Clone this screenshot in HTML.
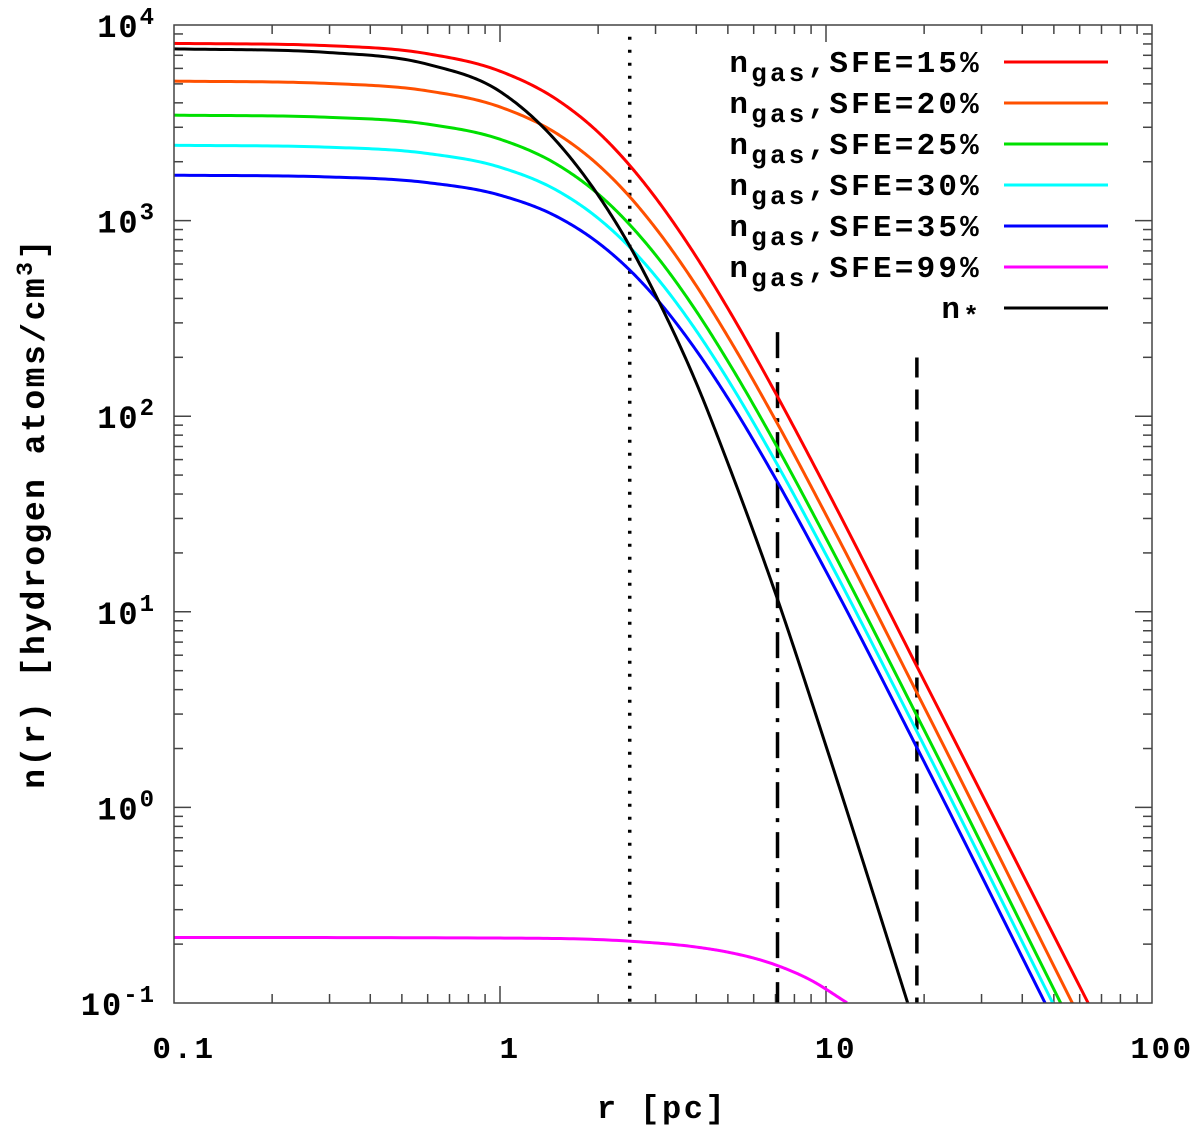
<!DOCTYPE html>
<html><head><meta charset="utf-8"><style>
html,body{margin:0;padding:0;background:#fff;}
svg{display:block;font-family:"Liberation Mono","DejaVu Sans Mono",monospace;font-weight:bold;}
</style></head><body>
<svg id="chart" width="1200" height="1132" viewBox="0 0 1200 1132" xmlns="http://www.w3.org/2000/svg"></svg>
<script>
// r values (pc) at which curves were read, and log10(n) values
const rRed   = [0.1,0.3,0.6,1,1.5,2,2.5,3,4,5,7,10,20,63.7];
const logRed = [3.906,3.894,3.853,3.764,3.617,3.452,3.282,3.117,2.815,2.551,2.119,1.632,0.648,-1.0];
const rOrange   = [0.1,0.3,0.6,1,1.5,2,2.5,3,4,5,7,10,20,57];
const logOrange = [3.713,3.701,3.663,3.581,3.443,3.285,3.122,2.962,2.667,2.407,1.980,1.496,0.513,-1.001];
const rGreen   = [0.1,0.3,0.6,1,1.5,2,2.5,3,4,5,7,10,20,52.5];
const logGreen = [3.539,3.528,3.493,3.416,3.286,3.136,2.979,2.825,2.537,2.281,1.858,1.376,0.396,-1.001];
const rCyan   = [0.1,0.3,0.6,1,1.5,2,2.5,3,4,5,7,10,20,49.7];
const logCyan = [3.385,3.375,3.343,3.273,3.153,3.012,2.864,2.716,2.437,2.187,1.769,1.292,0.315,-1.003];
const rBlue   = [0.1,0.3,0.6,1,1.5,2,2.5,3,4,5,7,10,20,47];
const logBlue = [3.232,3.223,3.194,3.130,3.019,2.887,2.747,2.606,2.336,2.092,1.681,1.207,0.233,-1.0];
const rMag   = [0.1,1,2.5,4,5,7,9,11.6];
const logMag = [-0.665,-0.668,-0.684,-0.714,-0.740,-0.805,-0.884,-0.999];
const rStar   = [0.1,0.3,0.6,1,1.5,2,2.5,3,4,5,7,10,15,17.8];
const logStar = [3.878,3.859,3.799,3.66,3.40,3.13,2.87,2.62,2.17,1.76,1.094,0.314,-0.606,-0.999];
const seriesColors = ['#ff0000','#ff5000','#00e000','#00ffff','#0000ff','#ff00ff','#000000'];
const seriesNames = ['sfe-15','sfe-20','sfe-25','sfe-30','sfe-35','sfe-99','n-star'];
const legendLabels = ['15%','20%','25%','30%','35%','99%',''];
const xTickVals = [0.1,1,10,100];
const xTickLabels = ['0.1','1','10','100'];
const yTickExps = [4,3,2,1,0,-1];
const vlineR = [2.5,7.1,19.0];
const vlineTop = [3.94,2.43,2.3];
const vlineNames = ['dotted-line','dash-dot-line','dashed-line'];

const L=174,R=1152,T=25,B=1003;
const X = r => L + (Math.log10(r)+1)*(R-L)/3;
const Y = lg => T + (4-lg)*(B-T)/5;
const NS='http://www.w3.org/2000/svg';
const svg=document.getElementById('chart');
function mk(tag,attrs,parent){const e=document.createElementNS(NS,tag);for(const k in attrs)e.setAttribute(k,attrs[k]);(parent||svg).appendChild(e);return e;}

const defs=mk('defs',{});
const cp=mk('clipPath',{id:'plotclip'},defs);
mk('rect',{x:L,y:T,width:R-L,height:B-T},cp);

const ticks=mk('g',{stroke:'#444','stroke-width':1.5});


for(let d=-1;d<2;d++){for(let m=1;m<10;m++){const v=m*Math.pow(10,d);const x=X(v);const len=m===1?17:9;
 if(m===1&&d===-1)continue;
 mk('line',{x1:x,y1:B,x2:x,y2:B-len},ticks);mk('line',{x1:x,y1:T,x2:x,y2:T+len},ticks);}}
for(let e=-1;e<4;e++){for(let m=1;m<10;m++){const lg=e+Math.log10(m);const y=Y(lg);const len=m===1?17:9;
 if(m===1&&e===-1)continue;
 mk('line',{x1:L,y1:y,x2:L+len,y2:y},ticks);mk('line',{x1:R,y1:y,x2:R-len,y2:y},ticks);}}

const dashes=['3,10','26,10,4,10','20,12'];
vlineR.forEach((r,i)=>{const l=mk('line',{x1:X(r),x2:X(r),y1:Y(vlineTop[i]),y2:B,stroke:'#000','stroke-width':3.5,'stroke-dasharray':dashes[i]});
 
 });

// monotone cubic interpolation in log-log space
function monoPath(rs,ls){
 const xs=rs.map(r=>Math.log10(r)),ys=ls,n=xs.length;
 const dl=[],m=[];for(let i=0;i<n-1;i++)dl.push((ys[i+1]-ys[i])/(xs[i+1]-xs[i]));
 m[0]=dl[0];m[n-1]=dl[n-2];
 for(let i=1;i<n-1;i++){const h0=xs[i]-xs[i-1],h1=xs[i+1]-xs[i];m[i]=(dl[i-1]*dl[i]<=0)?0:(dl[i-1]*h1+dl[i]*h0)/(h0+h1);}
 for(let i=0;i<n-1;i++){if(dl[i]===0){m[i]=0;m[i+1]=0;continue;}const a=m[i]/dl[i],b=m[i+1]/dl[i],s=a*a+b*b;if(s>9){const t=3/Math.sqrt(s);m[i]=t*a*dl[i];m[i+1]=t*b*dl[i];}}
 let d='';
 for(let i=0;i<n-1;i++){const h=xs[i+1]-xs[i];const N=30;
  for(let k=(i===0?0:1);k<=N;k++){const t=k/N,t2=t*t,t3=t2*t;
   const y=(2*t3-3*t2+1)*ys[i]+(t3-2*t2+t)*h*m[i]+(-2*t3+3*t2)*ys[i+1]+(t3-t2)*h*m[i+1];
   const xv=xs[i]+t*h;const px=L+(xv+1)*(R-L)/3,py=Y(y);
   d+=(d?' L':'M')+px.toFixed(2)+','+py.toFixed(2);}}
 return d;}
const allR=[rRed,rOrange,rGreen,rCyan,rBlue,rMag,rStar];
const allL=[logRed,logOrange,logGreen,logCyan,logBlue,logMag,logStar];
const cg=mk('g',{'clip-path':'url(#plotclip)'});


allR.forEach((rs,i)=>{const p=mk('path',{d:monoPath(rs,allL[i]),fill:'none',stroke:seriesColors[i],'stroke-width':3,'stroke-linejoin':'round'},cg);
 
 });

const fr=mk('rect',{x:L,y:T,width:R-L,height:B-T,fill:'none',stroke:'#444','stroke-width':1.5});



xTickVals.forEach((v,i)=>{const t=mk('text',{x:X(v)+10,y:1058,'text-anchor':'middle','font-size':31,'letter-spacing':2.5});t.textContent=xTickLabels[i];
 
 });
yTickExps.forEach(e=>{const t=mk('text',{x:156,y:Y(e)+12,'text-anchor':'end','font-size':32,'letter-spacing':2});
 t.appendChild(document.createTextNode('10'));const s=mk('tspan',{'font-size':24,dy:-13},t);s.textContent=String(e);
 
 });

const lg=mk('g',{});


seriesColors.forEach((c,i)=>{const y=62+i*41.0;
 const t=mk('text',{x:982,y:y+10,'text-anchor':'end','font-size':31,'letter-spacing':3.2},lg);
 
 
 if(i<6){t.appendChild(document.createTextNode('n'));const s=mk('tspan',{'font-size':26,dy:9},t);s.textContent='gas';
  const s2=mk('tspan',{dy:-9},t);s2.textContent=',SFE='+legendLabels[i];}
 else{t.appendChild(document.createTextNode('n'));const s=mk('tspan',{'font-size':26,dy:6},t);s.textContent='*';}
 const l=mk('line',{x1:1004,x2:1108,y1:y,y2:y,stroke:c,'stroke-width':3},lg);
 
 });

const xt=mk('text',{x:662,y:1118,'text-anchor':'middle','font-size':32,'letter-spacing':2.5});xt.textContent='r [pc]';


const yt=mk('text',{x:0,y:0,'text-anchor':'middle','font-size':33,'letter-spacing':2.5,transform:'translate(44,513) rotate(-90)'});
yt.appendChild(document.createTextNode('n(r) [hydrogen atoms/cm'));const sup=mk('tspan',{'font-size':23,dy:-12},yt);sup.textContent='3';
const cl=mk('tspan',{dy:12},yt);cl.textContent=']';


</script>
</body></html>
